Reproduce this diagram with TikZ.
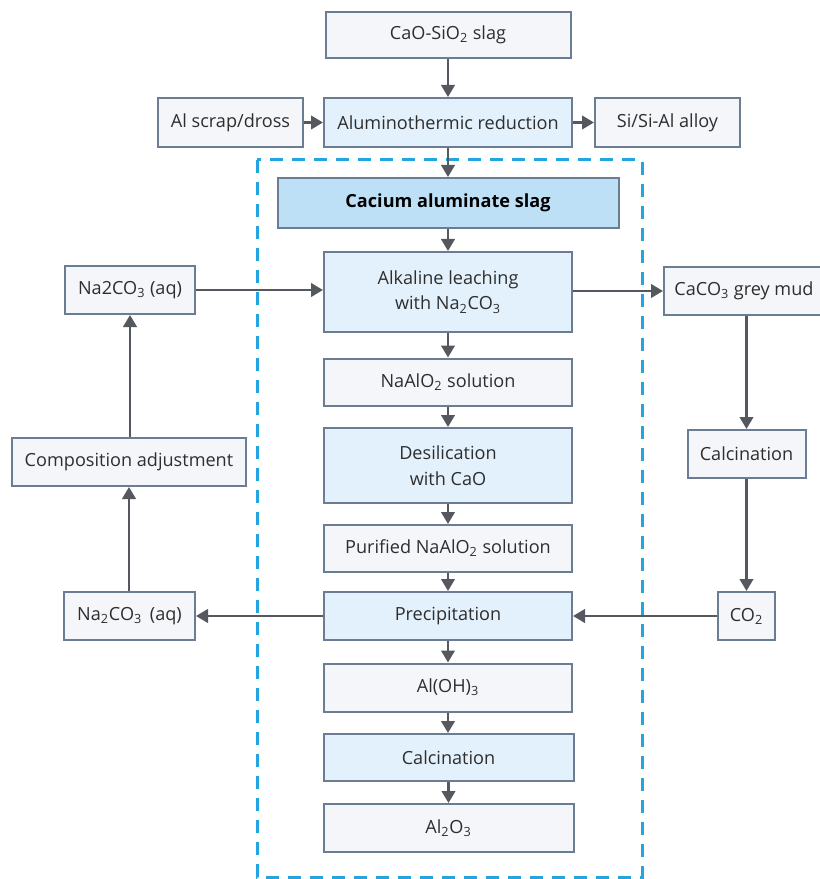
\documentclass[tikz,border=0pt]{standalone}
\usepackage{fontspec}
\setmainfont{Open Sans}
\usepackage{tikz}
\usetikzlibrary{arrows.meta}
\usetikzlibrary{positioning}

\definecolor{boxline}{HTML}{6B7D92}
\definecolor{greyfill}{HTML}{F4F6F9}
\definecolor{bluefill}{HTML}{E3F1FC}
\definecolor{slagfill}{HTML}{BEE0F7}
\definecolor{flowgray}{HTML}{55595F}
\definecolor{dashblue}{HTML}{22A5E0}

\begin{document}
\begin{tikzpicture}[x=0.2mm, y=-0.2mm,
                    every node/.style={align=center, draw=boxline, line width=0.4mm, inner sep=0pt,
                                       text=black!82, font=\fontsize{10.3}{14.5}\selectfont},
                    greybox/.style={fill=greyfill},
                    bluebox/.style={fill=bluefill},
                    flow/.style={draw=flowgray, line width=0.5mm, -{Triangle[length=2.4mm,width=2.7mm]}}
                ]
                \useasboundingbox (0,0) rectangle (820,879);
                % dashed frame round the leaching route
                \draw[dashblue, line width=0.6mm, dash pattern=on 2.6mm off 1.8mm] (257,160) rectangle (642,877);

                % top: reduction
                \node[greybox, minimum width=49mm, minimum height=9.2mm] (slag) at (448,35) {CaO-SiO\textsubscript{2} slag};
                \node[bluebox, minimum width=49.6mm, minimum height=9.8mm] (alred) at (448,122.5) {Aluminothermic reduction};
                \node[greybox, minimum width=29mm, minimum height=9.8mm] (scrap) at (230.5,122.5) {Al scrap/dross};
                \node[greybox, minimum width=29mm, minimum height=9.8mm] (alloy) at (667.5,122.5) {Si/Si-Al alloy};

                % main column
                \node[fill=slagfill, minimum width=68.2mm, minimum height=10mm, font=\fontsize{10.3}{14.5}\selectfont\bfseries, text=black] (caslag) at (448,203) {Cacium aluminate slag};
                \node[bluebox, minimum width=49.6mm, minimum height=16mm] (leach) at (448,292) {Alkaline leaching\\with Na\textsubscript{2}CO\textsubscript{3}};
                \node[greybox, minimum width=49.6mm, minimum height=9.4mm] (naalo) at (448,382) {NaAlO\textsubscript{2} solution};
                \node[bluebox, minimum width=49.6mm, minimum height=15mm] (desil) at (448,465.5) {Desilication\\with CaO};
                \node[greybox, minimum width=49.6mm, minimum height=9.4mm] (purif) at (448,548.5) {Purified NaAlO\textsubscript{2} solution};
                \node[bluebox, minimum width=49.6mm, minimum height=9.6mm] (precip) at (448,616) {Precipitation};
                \node[greybox, minimum width=49.6mm, minimum height=9.6mm] (aloh) at (448,687.5) {Al(OH)\textsubscript{3}};
                \node[bluebox, minimum width=50mm, minimum height=9.4mm] (calc) at (448.5,757.5) {Calcination};
                \node[greybox, minimum width=50mm, minimum height=9.6mm] (alox) at (448.5,828) {Al\textsubscript{2}O\textsubscript{3}};

                % left loop
                \node[greybox, minimum width=26mm, minimum height=9.6mm] (natop) at (130,290) {Na2CO\textsubscript{3} (aq)};
                \node[greybox, minimum width=46.6mm, minimum height=9.6mm] (comp) at (129,462) {Composition adjustment};
                \node[greybox, minimum width=26.2mm, minimum height=9.6mm] (nabot) at (129.5,616) {Na\textsubscript{2}CO\textsubscript{3}\ \,(aq)};

                % right loop
                \node[greybox, minimum width=32mm, minimum height=9.4mm] (caco) at (744,291) {CaCO\textsubscript{3} grey mud};
                \node[greybox, minimum width=23.6mm, minimum height=9.6mm] (calcr) at (746.5,454) {Calcination};
                \node[greybox, minimum width=11.4mm, minimum height=9.6mm] (co) at (746.5,616) {CO\textsubscript{2}};

                % connectors
                \draw[flow] (slag) -- (alred);
                \draw[flow] (scrap) -- (alred);
                \draw[flow] (alred) -- (alloy);
                \draw[flow] (alred) -- (caslag);
                \draw[flow] (caslag) -- (leach);
                \draw[flow] (leach) -- (naalo);
                \draw[flow] (naalo) -- (desil);
                \draw[flow] (desil) -- (purif);
                \draw[flow] (purif) -- (precip);
                \draw[flow] (precip) -- (aloh);
                \draw[flow] (aloh) -- (aloh.south |- calc.north);
                \draw[flow] (calc) -- (alox);
                \draw[flow] (natop) -- (natop -| leach.west);
                \draw[flow] (leach.east |- caco) -- (caco);
                \draw[flow] (caco.south -| calcr) -- (calcr);
                \draw[flow] (calcr) -- (co);
                \draw[flow] (co) -- (precip);
                \draw[flow] (precip) -- (nabot);
                \draw[flow] (nabot.north -| comp) -- (comp);
                \draw[flow] (comp.north -| natop) -- (natop);
            \end{tikzpicture}
\end{document}
